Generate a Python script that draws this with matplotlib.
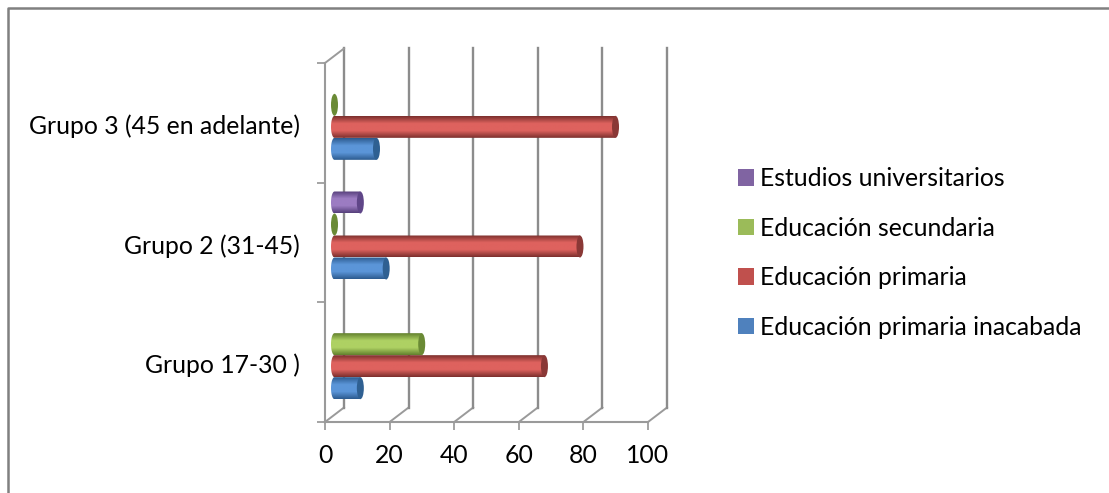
import numpy as np
import matplotlib
matplotlib.use("Agg")
import matplotlib.pyplot as plt
from matplotlib.colors import LinearSegmentedColormap
from matplotlib.lines import Line2D
from matplotlib.patches import Ellipse, Patch, PathPatch
from matplotlib.path import Path
from matplotlib.transforms import ScaledTranslation

plt.rcParams["font.family"] = ["Lato", "DejaVu Sans"]

grupos = ["Grupo 17-30 )", "Grupo 2 (31-45)", "Grupo 3 (45 en adelante)"]
series = ["Educación primaria inacabada", "Educación primaria",
          "Educación secundaria", "Estudios universitarios"]
# None = sin dato, no se dibuja nada
inacabada = [8, 16, 13]
primaria = [65, 76, 87]
secundaria = [27, 0, 0]
universitarios = [None, 8, None]
valores = [inacabada, primaria, secundaria, universitarios]
xticks = [0, 20, 40, 60, 80, 100]

leyenda_col = ["#4f81bd", "#c0504d", "#9bbb59", "#8064a2"]
borde = ["#2d5c90", "#7d302e", "#64822f", "#57407c"]
centro = ["#5b95d8", "#de625e", "#aed163", "#9c7cc2"]
tapa = ["#2f6092", "#8a3836", "#6a8a35", "#5f4688"]

gris = "#8c8c8c"
W, H = 1109, 493
fig = plt.figure(figsize=(W / 100, H / 100), dpi=100, facecolor="w")

# marco exterior, solo arriba e izquierda
fig.add_artist(Line2D([7.5 / W, 7.5 / W, 1], [0, 1 - 8 / H, 1 - 8 / H],
                      color="#808080", lw=1.8, transform=fig.transFigure))

# plano frontal del grafico 3D
ax = fig.add_axes([325 / W, 1 - 422 / H, 323 / W, 359 / H])
ax.set_xlim(0, 100)
ax.set_ylim(-0.5, 2.5)
ax.set_facecolor("none")

px = 100 / 323
py = 3 / 359
dx_atras, dy_atras = 19 * px, 14.5 * py
dx_barra, dy_barra = 9.5 * px, 7 * py
alto = 22 * py
r = 3.5 * px

# paredes y rejilla del fondo
for x in xticks:
    ax.plot([x, x + dx_atras], [-0.5, -0.5 + dy_atras], color="#9a9a9a", lw=1.4,
            clip_on=False, zorder=1)
    ax.plot([x + dx_atras, x + dx_atras], [-0.5 + dy_atras, 2.5 + dy_atras],
            color=gris, lw=1.7, clip_on=False, zorder=1)
ax.plot([0, dx_atras], [2.5, 2.5 + dy_atras], color="#9a9a9a", lw=1.4, clip_on=False, zorder=1)

# barras como cilindros
t = np.linspace(np.pi / 2, 3 * np.pi / 2, 30)
for i, vals in enumerate(valores):
    cmap = LinearSegmentedColormap.from_list(
        "c%d" % i, [borde[i], centro[i], centro[i], borde[i]])
    for j, v in enumerate(vals):
        if v is None:
            continue
        y0 = j - 2 * alto + i * alto + dy_barra
        ym = y0 + alto / 2
        x0 = dx_barra
        x1 = dx_barra + v
        if v == 0:
            ax.add_patch(Ellipse((x0, ym), 2 * r, alto, fc=tapa[i], ec="none", zorder=3))
            continue
        xs = np.concatenate([x0 + r * np.cos(t), [x1, x1]])
        ys = np.concatenate([ym + alto / 2 * np.sin(t), [y0, y0 + alto]])
        forma = PathPatch(Path(np.column_stack([xs, ys])), fc="none", ec="none",
                          transform=ax.transData)
        ax.add_patch(forma)
        grad = np.linspace(0, 1, 40).reshape(-1, 1)
        im = ax.imshow(grad, extent=[x0 - r, x1, y0, y0 + alto], cmap=cmap,
                       aspect="auto", origin="lower", zorder=3)
        im.set_clip_path(forma)
        ax.add_patch(Ellipse((x1, ym), 2 * r, alto, fc=tapa[i], ec="none", zorder=4))
ax.set_xlim(0, 100)
ax.set_ylim(-0.5, 2.5)

# ejes
for lado in ["top", "right"]:
    ax.spines[lado].set_visible(False)
for lado in ["left", "bottom"]:
    ax.spines[lado].set_color("#9a9a9a")
    ax.spines[lado].set_linewidth(1.5)
ax.set_xticks(xticks)
ax.set_yticks([-0.5, 0.5, 1.5, 2.5])
ax.set_yticklabels([])
ax.set_yticks([0, 1, 2], minor=True)
ax.set_yticklabels(grupos, minor=True, fontsize=17.8)
ax.tick_params(axis="y", which="major", length=5.8, width=1.1, color=gris)
ax.tick_params(axis="y", which="minor", length=0, pad=18)
ax.tick_params(axis="x", length=5.8, width=1.1, color=gris, labelsize=17.8, pad=10)
desplazar = ScaledTranslation(0, -1 / 72, fig.dpi_scale_trans)
for et in ax.get_yticklabels(minor=True):
    et.set_transform(et.get_transform() + desplazar)

handles = [Patch(fc=leyenda_col[i], ec="none", label=series[i]) for i in [3, 2, 1, 0]]
fig.legend(handles=handles, loc="center left", bbox_to_anchor=(738 / W, 1 - 253 / H),
           frameon=False, fontsize=17.8, borderpad=0, borderaxespad=0,
           handlelength=0.65, handleheight=0.65, handletextpad=0.24, labelspacing=1.07)

fig.savefig("out.png", dpi=100)
